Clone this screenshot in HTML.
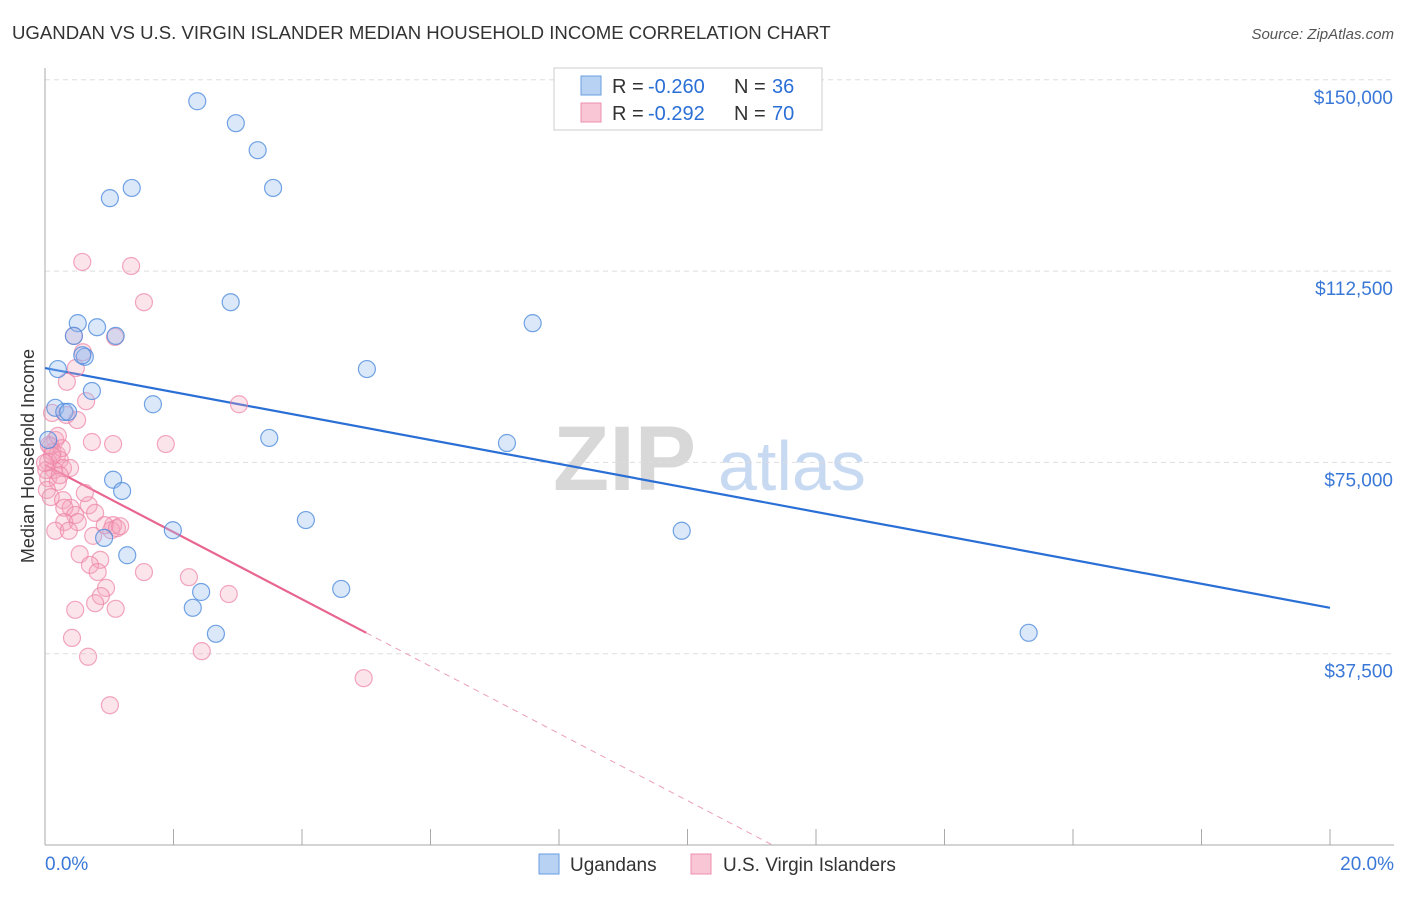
<!DOCTYPE html>
<html><head><meta charset="utf-8"><style>
body{margin:0;background:#fff;font-family:"Liberation Sans",sans-serif}
svg text{font-family:"Liberation Sans",sans-serif}
</style></head><body>
<svg id="c" width="1406" height="892">
<text x="12" y="39" font-size="18.6" fill="#333">UGANDAN VS U.S. VIRGIN ISLANDER MEDIAN HOUSEHOLD INCOME CORRELATION CHART</text>
<text x="1394" y="39" font-size="15" fill="#555" text-anchor="end" font-style="italic">Source: ZipAtlas.com</text>
<text x="34" y="456" font-size="18" fill="#333" text-anchor="middle" transform="rotate(-90 34 456)">Median Household Income</text>
<g><text x="553" y="490" font-size="92" fill="#d8d8d8" font-family="Liberation Serif" font-weight="bold">ZIP</text><text x="718" y="490" font-size="70" fill="#c8daf2">atlas</text></g>
<g id="grid"></g><g id="axes"></g><g id="lines"></g><g id="pts"></g>
<g>
<rect x="554" y="68" width="268" height="62" fill="#fff" stroke="#ccc"/>
<rect x="581" y="76" width="20" height="19" fill="#b8d2f4" stroke="#6a9de0"/>
<rect x="581" y="103" width="20" height="19" fill="#f9c6d5" stroke="#ee8fad"/>
<text x="612" y="93" font-size="20" fill="#333">R =</text>
<text x="648" y="93" font-size="20" fill="#2a6fd6">-0.260</text>
<text x="734" y="93" font-size="20" fill="#333">N =</text>
<text x="772" y="93" font-size="20" fill="#2a6fd6">36</text>
<text x="612" y="120" font-size="20" fill="#333">R =</text>
<text x="648" y="120" font-size="20" fill="#2a6fd6">-0.292</text>
<text x="734" y="120" font-size="20" fill="#333">N =</text>
<text x="772" y="120" font-size="20" fill="#2a6fd6">70</text>
</g>
<g>
<rect x="539" y="854" width="20" height="20" fill="#b8d2f4" stroke="#6a9de0"/>
<text x="570" y="871" font-size="19" fill="#333">Ugandans</text>
<rect x="691" y="854" width="20" height="20" fill="#f9c6d5" stroke="#ee8fad"/>
<text x="723" y="871" font-size="19" fill="#333">U.S. Virgin Islanders</text>
</g>
</svg>
<script>
const blueX=[2.37,2.97,3.31,1.35,1.01,3.55,2.89,0.51,0.81,7.59,1.10,0.45,0.62,0.58,0.20,0.73,5.01,1.68,0.16,0.30,0.36,3.49,7.19,1.06,1.20,4.06,1.99,9.91,0.92,1.28,4.61,2.43,2.30,2.66,15.31,0.05];
const blueY=[145800,141500,136200,128800,126800,128800,106400,102300,101500,102300,99800,99800,95700,96000,93300,89000,93300,86400,85700,84900,84900,79800,78800,71600,69400,63700,61700,61600,60200,56800,50200,49600,46500,41400,41600,79400];
const pinkX=[0.58,1.34,1.54,1.09,0.45,0.59,0.48,0.34,0.11,0.33,0.50,0.64,3.02,0.73,1.06,1.88,0.16,0.09,0.12,0.19,0.23,0.05,0.28,0.39,0.14,0.05,0.20,0.03,0.09,0.28,0.40,0.68,0.30,0.47,0.78,0.30,0.51,1.06,1.03,0.16,0.37,0.75,0.93,1.12,0.54,0.86,0.70,0.82,1.54,2.24,0.95,0.87,0.78,1.10,0.47,2.86,0.42,0.67,2.44,4.96,1.01,0.02,0.23,0.06,0.26,0.11,0.0,0.20,0.62,1.17];
const pinkY=[114300,113500,106400,99600,99800,96600,93500,90800,84700,84300,83300,87000,86400,79000,78600,78600,79400,78200,77000,76500,75500,75100,73900,73900,73500,71900,71200,69600,68200,67600,66100,66600,66100,64700,65100,63300,63300,62700,61700,61600,61600,60600,62700,62100,57000,55900,54900,53500,53500,52500,50400,48800,47400,46300,46100,49200,40600,36900,38000,32700,27400,73500,72500,78400,77800,76300,74900,80200,69000,62500];
const yTicks=[37500,75000,112500,150000];
const yTickLabels=["$37,500","$75,000","$112,500","$150,000"];
const xTicks=[0,2,4,6,8,10,12,14,16,18,20];
const blueTrend=[93500,-2350];
const pinkTrend=[74500,-6580];
const pinkSolidEnd=5.0;
const X=v=>45+v*64.25, Y=v=>845-v/196.03;
const NS="http://www.w3.org/2000/svg";
function mk(t,a,p){const e=document.createElementNS(NS,t);for(const k in a)e.setAttribute(k,a[k]);p.appendChild(e);return e;}
const grid=document.getElementById('grid'),axes=document.getElementById('axes'),lines=document.getElementById('lines'),pts=document.getElementById('pts');
yTicks.forEach((v,i)=>{
 const l=mk('line',{x1:45,x2:1394,y1:Y(v),y2:Y(v),stroke:'#ddd','stroke-dasharray':'5,4'},grid);
 
 
 const t=mk('text',{x:1393,y:Y(v)+24,'font-size':19,fill:'#3a78d8','text-anchor':'end'},grid);
 t.textContent=yTickLabels[i];
 
 
});
const ax=mk('line',{x1:45,x2:45,y1:68,y2:845,stroke:'#aaa'},axes);


const bx=mk('line',{x1:45,x2:1394,y1:845,y2:845,stroke:'#aaa'},axes);


xTicks.forEach(v=>{
 const t=mk('line',{x1:X(v),x2:X(v),y1:829,y2:845,stroke:'#aaa'},axes);
 
 
});
[[0,'0.0%','start',45],[20,'20.0%','end',1394]].forEach(d=>{
 const t=mk('text',{x:d[3],y:870,'font-size':19,fill:'#3a78d8','text-anchor':d[2]},axes);
 t.textContent=d[1];
 
 
});
function dot(x,y,f,s,n){const c=mk('circle',{cx:X(x),cy:Y(y),r:8.5,fill:f,stroke:s,'stroke-width':1.2},pts);
 
 }
pinkX.forEach((x,i)=>dot(x,pinkY[i],'rgba(245,165,190,0.3)','rgba(236,130,165,0.7)','point-virgin-islanders'));
blueX.forEach((x,i)=>dot(x,blueY[i],'rgba(150,190,240,0.35)','rgba(80,140,220,0.8)','point-ugandans'));
const bl=mk('line',{x1:X(0),y1:Y(blueTrend[0]),x2:X(20),y2:Y(blueTrend[0]+20*blueTrend[1]),stroke:'#2a6fd6','stroke-width':2.2},lines);


const pl=mk('line',{x1:X(0),y1:Y(pinkTrend[0]),x2:X(pinkSolidEnd),y2:Y(pinkTrend[0]+pinkSolidEnd*pinkTrend[1]),stroke:'#e8658f','stroke-width':2.2},lines);


const zx=-pinkTrend[0]/pinkTrend[1];
const pd=mk('line',{x1:X(pinkSolidEnd),y1:Y(pinkTrend[0]+pinkSolidEnd*pinkTrend[1]),x2:X(zx),y2:Y(0),stroke:'#eca0b8','stroke-width':1,'stroke-dasharray':'6,5'},lines);


</script>
</body></html>
